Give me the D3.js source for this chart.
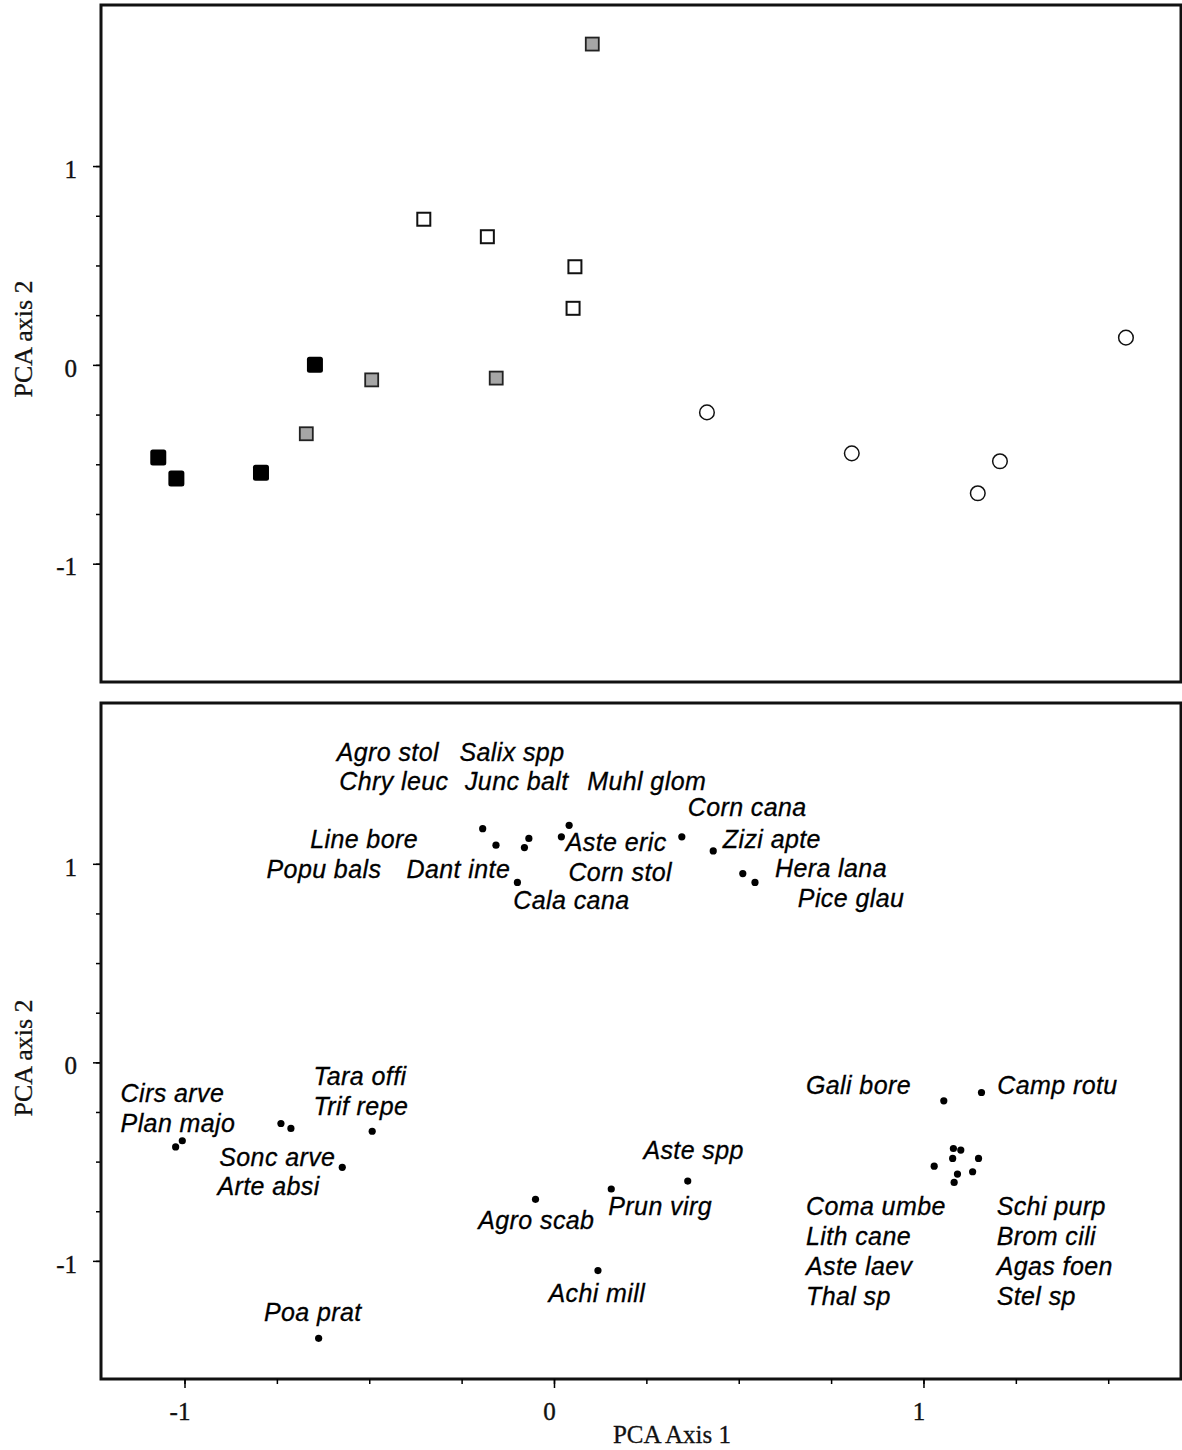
<!DOCTYPE html>
<html>
<head>
<meta charset="utf-8">
<script src="https://cdn.jsdelivr.net/npm/d3@7"></script>
<style>
  body { margin: 0; background: #fff; }
  svg { display: block; }
</style>
</head>
<body>
<svg id="chart" width="1182" height="1450"></svg>
<script>
// site scores, PCA axis 1 / axis 2
const blackSites = [[-1.071, -0.466], [-1.022, -0.572], [-0.793, -0.542], [-0.647, 0.0]];
const graySites = [[-0.669, -0.349], [-0.492, -0.078], [-0.155, -0.069], [0.105, 1.611]];
const whiteSites = [[-0.351, 0.730], [-0.179, 0.642], [0.058, 0.491], [0.053, 0.282]];
const circleSites = [[0.414, -0.239], [0.806, -0.445], [1.147, -0.646], [1.207, -0.485], [1.548, 0.137]];

// species scores
const speciesPoints = [
  [-0.193, 1.177], [-0.157, 1.094], [-0.068, 1.128], [-0.080, 1.082], [0.041, 1.194],
  [0.020, 1.136], [-0.099, 0.906], [0.346, 1.136], [0.431, 1.065], [0.511, 0.951], [0.544, 0.906],
  [-1.024, -0.426], [-1.006, -0.395], [-0.739, -0.308], [-0.712, -0.333], [-0.492, -0.347], [-0.573, -0.529],
  [-0.637, -1.390], [-0.050, -0.690], [0.155, -0.638], [0.362, -0.598], [0.119, -1.049],
  [1.055, -0.194], [1.157, -0.152], [1.029, -0.523], [1.079, -0.484], [1.101, -0.442], [1.081, -0.434],
  [1.149, -0.484], [1.133, -0.551], [1.092, -0.563], [1.083, -0.605]
];

// label name, left x, baseline y (data units)
const speciesLabels = [
  ['Agro stol', -0.588, 1.518], ['Salix spp', -0.256, 1.518],
  ['Chry leuc', -0.581, 1.372], ['Junc balt', -0.241, 1.372], ['Muhl glom', 0.090, 1.372],
  ['Corn cana', 0.362, 1.241],
  ['Line bore', -0.660, 1.082], ['Aste eric', 0.032, 1.065], ['Zizi apte', 0.457, 1.082],
  ['Popu bals', -0.778, 0.931], ['Dant inte', -0.399, 0.931], ['Corn stol', 0.039, 0.915], ['Hera lana', 0.598, 0.935],
  ['Cala cana', -0.110, 0.772], ['Pice glau', 0.660, 0.780],
  ['Tara offi', -0.651, -0.116], ['Cirs arve', -1.173, -0.199], ['Trif repe', -0.651, -0.266],
  ['Plan majo', -1.173, -0.350], ['Sonc arve', -0.906, -0.523], ['Arte absi', -0.911, -0.668],
  ['Poa prat', -0.785, -1.305],
  ['Aste spp', 0.242, -0.489], ['Prun virg', 0.147, -0.769], ['Agro scab', -0.205, -0.841], ['Achi mill', -0.015, -1.205],
  ['Gali bore', 0.682, -0.157], ['Camp rotu', 1.200, -0.157],
  ['Coma umbe', 0.682, -0.769], ['Lith cane', 0.682, -0.920], ['Aste laev', 0.682, -1.070], ['Thal sp', 0.682, -1.221],
  ['Schi purp', 1.198, -0.769], ['Brom cili', 1.198, -0.920], ['Agas foen', 1.198, -1.070], ['Stel sp', 1.198, -1.221]
];

const majorTicks = [-1, 0, 1];
const yMinorTicks = [-1, -0.75, -0.5, -0.25, 0, 0.25, 0.5, 0.75, 1];
const xMinorTicks = [-1, -0.75, -0.5, -0.25, 0, 0.25, 0.5, 0.75, 1, 1.25, 1.5];

const svg = d3.select('#chart');
const serif = '"Liberation Serif", "Times New Roman", serif';
const sans = '"Liberation Sans", Arial, sans-serif';

const left = 101, right = 1181;
const x = d3.scaleLinear().domain([-1.226, 1.697]).range([left, right]);
const yTop = d3.scaleLinear().domain([-1.595, 1.81]).range([682, 5]);
const yBot = d3.scaleLinear().domain([-1.595, 1.81]).range([1379, 703]);

function drawPanel(y, labelY) {
  const g = svg.append('g');

  // minor ticks
  g.append('g')
    .attr('transform', `translate(${left},0)`)
    .call(d3.axisLeft(y).tickValues(yMinorTicks).tickSize(5).tickFormat(''))
    .call(a => a.select('.domain').remove())
    .selectAll('line').attr('stroke-width', 1.5);

  const ax = g.append('g')
    .attr('transform', `translate(${left},0)`)
    .call(d3.axisLeft(y).tickValues(majorTicks).tickSize(8).tickPadding(16).tickFormat(d3.format('d')));
  ax.select('.domain').remove();
  ax.selectAll('line').attr('stroke-width', 1.5);
  ax.selectAll('text')
    .attr('font-family', serif)
    .attr('font-size', '25px')
    .attr('fill', '#111')
    .attr('stroke', '#111')
    .attr('stroke-width', 0.4)
    .attr('dy', '0.45em')
    .text(d => d < 0 ? '-' + Math.abs(d) : d);

  // frame
  g.append('rect')
    .attr('x', left)
    .attr('y', y.range()[1])
    .attr('width', right - left)
    .attr('height', y.range()[0] - y.range()[1])
    .attr('fill', 'none')
    .attr('stroke', '#111')
    .attr('stroke-width', 3);

  g.append('text')
    .attr('transform', `translate(32,${labelY}) rotate(-90)`)
    .attr('text-anchor', 'middle')
    .attr('font-family', serif)
    .attr('font-size', '26px')
    .attr('fill', '#111')
    .attr('stroke', '#111')
    .attr('stroke-width', 0.3)
    .text('PCA axis 2');

  return g;
}

// ---- top panel: sites ----
const sitePanel = drawPanel(yTop, 339);

const sq = 14;
sitePanel.selectAll('rect.black')
  .data(blackSites)
  .enter()
  .append('rect')
  .attr('class', 'black')
  .attr('x', d => x(d[0]) - 8)
  .attr('y', d => yTop(d[1]) - 8)
  .attr('width', 16)
  .attr('height', 16)
  .attr('rx', 2.5)
  .attr('fill', '#000');

sitePanel.selectAll('rect.gray')
  .data(graySites)
  .enter()
  .append('rect')
  .attr('class', 'gray')
  .attr('x', d => x(d[0]) - sq / 2)
  .attr('y', d => yTop(d[1]) - sq / 2)
  .attr('width', sq - 1)
  .attr('height', sq - 1)
  .attr('fill', '#a6a6a6')
  .attr('stroke', '#222')
  .attr('stroke-width', 1.8);

sitePanel.selectAll('rect.white')
  .data(whiteSites)
  .enter()
  .append('rect')
  .attr('class', 'white')
  .attr('x', d => x(d[0]) - sq / 2)
  .attr('y', d => yTop(d[1]) - sq / 2)
  .attr('width', sq - 1)
  .attr('height', sq - 1)
  .attr('fill', '#fff')
  .attr('stroke', '#111')
  .attr('stroke-width', 2);

sitePanel.selectAll('circle')
  .data(circleSites)
  .enter()
  .append('circle')
  .attr('cx', d => x(d[0]))
  .attr('cy', d => yTop(d[1]))
  .attr('r', 7.3)
  .attr('fill', '#fff')
  .attr('stroke', '#111')
  .attr('stroke-width', 1.5);

// ---- bottom panel: species ----
const speciesPanel = drawPanel(yBot, 1058);

speciesPanel.selectAll('circle')
  .data(speciesPoints)
  .enter()
  .append('circle')
  .attr('cx', d => x(d[0]))
  .attr('cy', d => yBot(d[1]))
  .attr('r', 3.6)
  .attr('fill', '#000');

speciesPanel.selectAll('text.species')
  .data(speciesLabels)
  .enter()
  .append('text')
  .attr('class', 'species')
  .attr('x', d => x(d[1]))
  .attr('y', d => yBot(d[2]))
  .attr('font-family', sans)
  .attr('font-style', 'italic')
  .attr('font-size', '25px')
  .attr('letter-spacing', '0.4px')
  .attr('fill', '#000')
  .attr('stroke', '#000')
  .attr('stroke-width', 0.3)
  .text(d => d[0]);

// x axis (bottom panel only)
const xAxisY = yBot.range()[0];
svg.append('g')
  .attr('transform', `translate(0,${xAxisY})`)
  .call(d3.axisBottom(x).tickValues(xMinorTicks).tickSize(5).tickFormat(''))
  .call(a => a.select('.domain').remove())
  .selectAll('line').attr('stroke-width', 1.5);

const xAx = svg.append('g')
  .attr('transform', `translate(0,${xAxisY})`)
  .call(d3.axisBottom(x).tickValues(majorTicks).tickSize(9).tickPadding(14));
xAx.select('.domain').remove();
xAx.selectAll('line').attr('stroke-width', 1.5);
xAx.selectAll('text')
  .attr('font-family', serif)
  .attr('font-size', '25px')
  .attr('fill', '#111')
  .attr('stroke', '#111')
  .attr('stroke-width', 0.4)
  .attr('dx', '-5')
  .text(d => d < 0 ? '-' + Math.abs(d) : d);

svg.append('text')
  .attr('x', 672)
  .attr('y', 1443)
  .attr('text-anchor', 'middle')
  .attr('font-family', serif)
  .attr('font-size', '25px')
  .attr('fill', '#111')
  .attr('stroke', '#111')
  .attr('stroke-width', 0.3)
  .text('PCA Axis 1');
</script>
</body>
</html>
